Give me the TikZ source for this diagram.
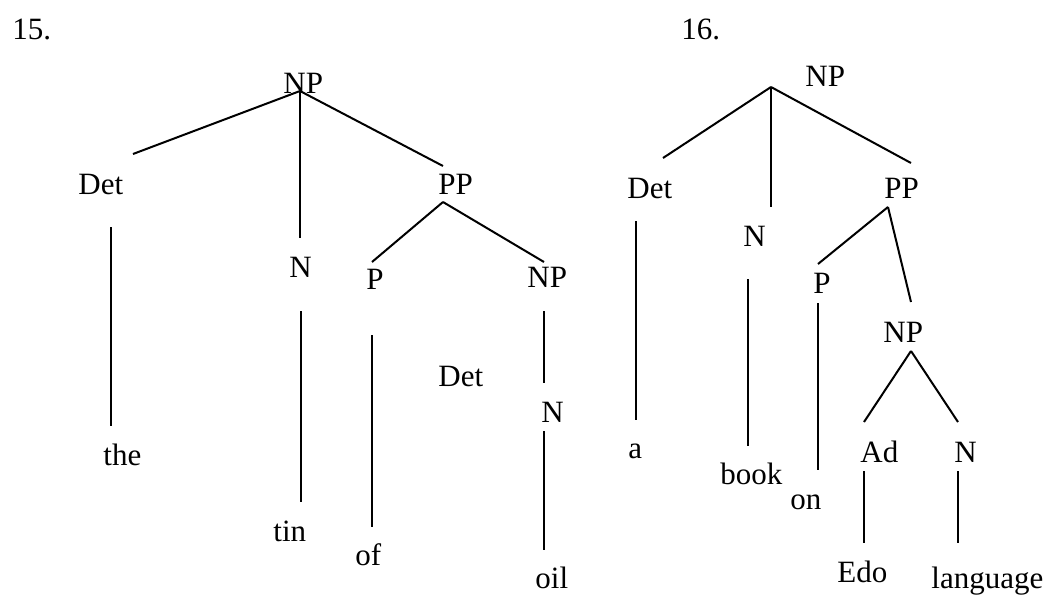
\documentclass[tikz,border=0pt]{standalone}
\usepackage{fontspec}
\setmainfont{Liberation Serif}

\begin{document}
\begin{tikzpicture}[
    x=0.5pt, y=-0.5pt,
    word/.style = {inner sep=0pt, anchor=base west, font=\fontsize{15.5}{18}\selectfont},
    branch/.style = {line width=1pt}
]
    \useasboundingbox (0,0) rectangle (1056,595);

    % Tree 15: the tin of oil
    \node[word] (num15) at (12,39) {15.};
    \node[word] (np1) at (283,93) {NP};
    \node[word] (det1) at (78,194) {Det};
    \node[word] (n1) at (289,277) {N};
    \node[word] (pp1) at (438,194) {PP};
    \node[word] (p1) at (366,289) {P};
    \node[word] (np2) at (527,287) {NP};
    \node[word] (det2) at (438,386) {Det};
    \node[word] (n2) at (541,422) {N};
    \node[word] (the) at (103,465) {the};
    \node[word] (tin) at (273,541) {tin};
    \node[word] (of) at (355,565) {of};
    \node[word] (oil) at (535,588) {oil};

    % branch ends for tree 15
    \coordinate (np1top) at (300,91);
    \coordinate (det1up) at (133,154);
    \coordinate (n1up) at (300,238);
    \coordinate (pp1up) at (443,166);
    \coordinate (pp1top) at (443,202);
    \coordinate (p1up) at (372,262);
    \coordinate (np2up) at (544,262);
    \coordinate (det1dn) at (111,227);
    \coordinate (theup) at (111,426);
    \coordinate (n1dn) at (301,311);
    \coordinate (tinup) at (301,502);
    \coordinate (p1dn) at (372,335);
    \coordinate (ofup) at (372,527);
    \coordinate (np2dn) at (544,311);
    \coordinate (n2up) at (544,383);
    \coordinate (n2dn) at (544,431);
    \coordinate (oilup) at (544,550);

    \draw[branch] (np1top) -- (det1up);
    \draw[branch] (np1top) -- (n1up);
    \draw[branch] (np1top) -- (pp1up);
    \draw[branch] (pp1top) -- (p1up);
    \draw[branch] (pp1top) -- (np2up);
    \draw[branch] (det1dn) -- (theup);
    \draw[branch] (n1dn) -- (tinup);
    \draw[branch] (p1dn) -- (ofup);
    \draw[branch] (np2dn) -- (n2up);
    \draw[branch] (n2dn) -- (oilup);

    % Tree 16: a book on Edo language
    \node[word] (num16) at (681,39) {16.};
    \node[word] (np3) at (805,86) {NP};
    \node[word] (det3) at (627,198) {Det};
    \node[word] (n3) at (743,246) {N};
    \node[word] (pp3) at (884,198) {PP};
    \node[word] (p3) at (813,293) {P};
    \node[word] (np4) at (883,342) {NP};
    \node[word] (ad4) at (860,462) {Ad};
    \node[word] (n4) at (954,462) {N};
    \node[word] (a) at (628,458) {a};
    \node[word] (book) at (720,484) {book};
    \node[word] (on) at (790,509) {on};
    \node[word] (edo) at (837,582) {Edo};
    \node[word] (language) at (931,588) {language};

    % branch ends for tree 16
    \coordinate (np3top) at (771,87);
    \coordinate (det3up) at (663,158);
    \coordinate (n3up) at (771,207);
    \coordinate (pp3up) at (911,163);
    \coordinate (pp3top) at (888,207);
    \coordinate (p3up) at (818,264);
    \coordinate (np4up) at (911,302);
    \coordinate (det3dn) at (636,221);
    \coordinate (aup) at (636,420);
    \coordinate (n3dn) at (748,279);
    \coordinate (bookup) at (748,446);
    \coordinate (p3dn) at (818,303);
    \coordinate (onup) at (818,470);
    \coordinate (np4top) at (911,351);
    \coordinate (ad4up) at (864,422);
    \coordinate (n4up) at (958,422);
    \coordinate (ad4dn) at (864,471);
    \coordinate (edoup) at (864,543);
    \coordinate (n4dn) at (958,471);
    \coordinate (languageup) at (958,543);

    \draw[branch] (np3top) -- (det3up);
    \draw[branch] (np3top) -- (n3up);
    \draw[branch] (np3top) -- (pp3up);
    \draw[branch] (pp3top) -- (p3up);
    \draw[branch] (pp3top) -- (np4up);
    \draw[branch] (det3dn) -- (aup);
    \draw[branch] (n3dn) -- (bookup);
    \draw[branch] (p3dn) -- (onup);
    \draw[branch] (np4top) -- (ad4up);
    \draw[branch] (np4top) -- (n4up);
    \draw[branch] (ad4dn) -- (edoup);
    \draw[branch] (n4dn) -- (languageup);

\end{tikzpicture}
\end{document}
